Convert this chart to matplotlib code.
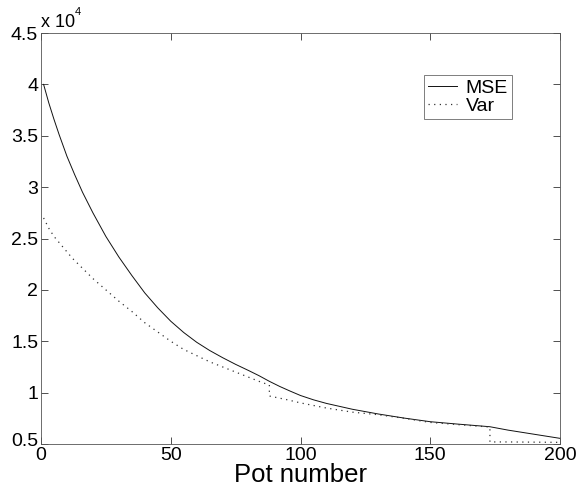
import matplotlib
matplotlib.use("Agg")
import matplotlib.pyplot as plt
import matplotlib.transforms as mtransforms
import numpy as np

plt.rcParams['font.family'] = ['Liberation Sans', 'DejaVu Sans']

# Data (values in units of 1e4)
mse_x = [1, 3, 5, 7, 10, 13, 16, 20, 25, 30, 35, 40, 45, 50, 55, 60, 65, 70, 75, 80,
         84, 88, 92, 96, 100, 105, 110, 120, 130, 140, 150, 160, 173, 180, 190, 200]
mse_y = [4.00, 3.82, 3.66, 3.51, 3.30, 3.12, 2.95, 2.75, 2.52, 2.32, 2.14, 1.97, 1.825,
         1.695, 1.585, 1.49, 1.41, 1.34, 1.275, 1.215, 1.165, 1.11, 1.06, 1.015, 0.972,
         0.93, 0.895, 0.838, 0.792, 0.752, 0.717, 0.695, 0.668, 0.635, 0.595, 0.555]

var_x = [1, 3, 5, 8, 12, 16, 20, 25, 30, 35, 40, 45, 50, 55, 60, 65, 70, 75, 80, 85, 88,
         88, 95, 100, 110, 120, 130, 140, 150, 160, 173, 173, 180, 190, 200]
var_y = [2.70, 2.60, 2.52, 2.43, 2.31, 2.21, 2.11, 2.00, 1.89, 1.79, 1.68, 1.59, 1.50,
         1.42, 1.36, 1.30, 1.25, 1.20, 1.15, 1.10, 1.075, 0.967, 0.93, 0.90, 0.85, 0.81,
         0.785, 0.75, 0.71, 0.69, 0.665, 0.52, 0.52, 0.518, 0.516]

xticks = [0, 50, 100, 150, 200]
yticks = [0.5, 1, 1.5, 2, 2.5, 3, 3.5, 4, 4.5]
ytick_labels = ['0.5', '1', '1.5', '2', '2.5', '3', '3.5', '4', '4.5']

fig = plt.figure(figsize=(5.79, 4.92), dpi=100)
ax = fig.add_axes([41/579, 48/492, (560-41)/579, (444-33)/492])

ax.plot(mse_x, np.array(mse_y) * 1e4, color='#111111', lw=0.7, label='MSE')
ax.plot(var_x, np.array(var_y) * 1e4, color='#333333', lw=0.9, ls=(0, (1, 3.5)), label='Var')

ax.set_xlim(0, 200)
ax.set_ylim(0.5e4, 4.5e4)
ax.set_xticks(xticks)
ax.set_xticklabels([str(t) for t in xticks])
ax.set_yticks([t * 1e4 for t in yticks])
ax.set_yticklabels(ytick_labels)
ax.tick_params(direction='in', length=5, width=0.6, labelsize=14,
               top=True, right=True, color='#333333', pad=2)
for s in ax.spines.values():
    s.set_linewidth(0.6)
    s.set_color('#555555')

# nudge the lowest y label up slightly, as in the reference
lbl = ax.get_yticklabels()[0]
lbl.set_transform(lbl.get_transform() + mtransforms.ScaledTranslation(0, 4/100, fig.dpi_scale_trans))

ax.set_xlabel('Pot number', fontsize=18.5, labelpad=-0.5)

fig.text(41/579, 1 - 27/492, 'x 10', fontsize=13, ha='left', va='baseline')
fig.text(75/579, 1 - 15/492, '4', fontsize=8, ha='left', va='baseline')

leg = ax.legend(loc='upper right', bbox_to_anchor=((512-41)/519, (444-75)/411),
                fontsize=14, frameon=True, fancybox=False, edgecolor='#444444',
                handlelength=1.5, handletextpad=0.45, borderpad=0.2,
                labelspacing=0.05, borderaxespad=0)
leg.get_frame().set_linewidth(0.6)

fig.savefig('out.png', dpi=100)
